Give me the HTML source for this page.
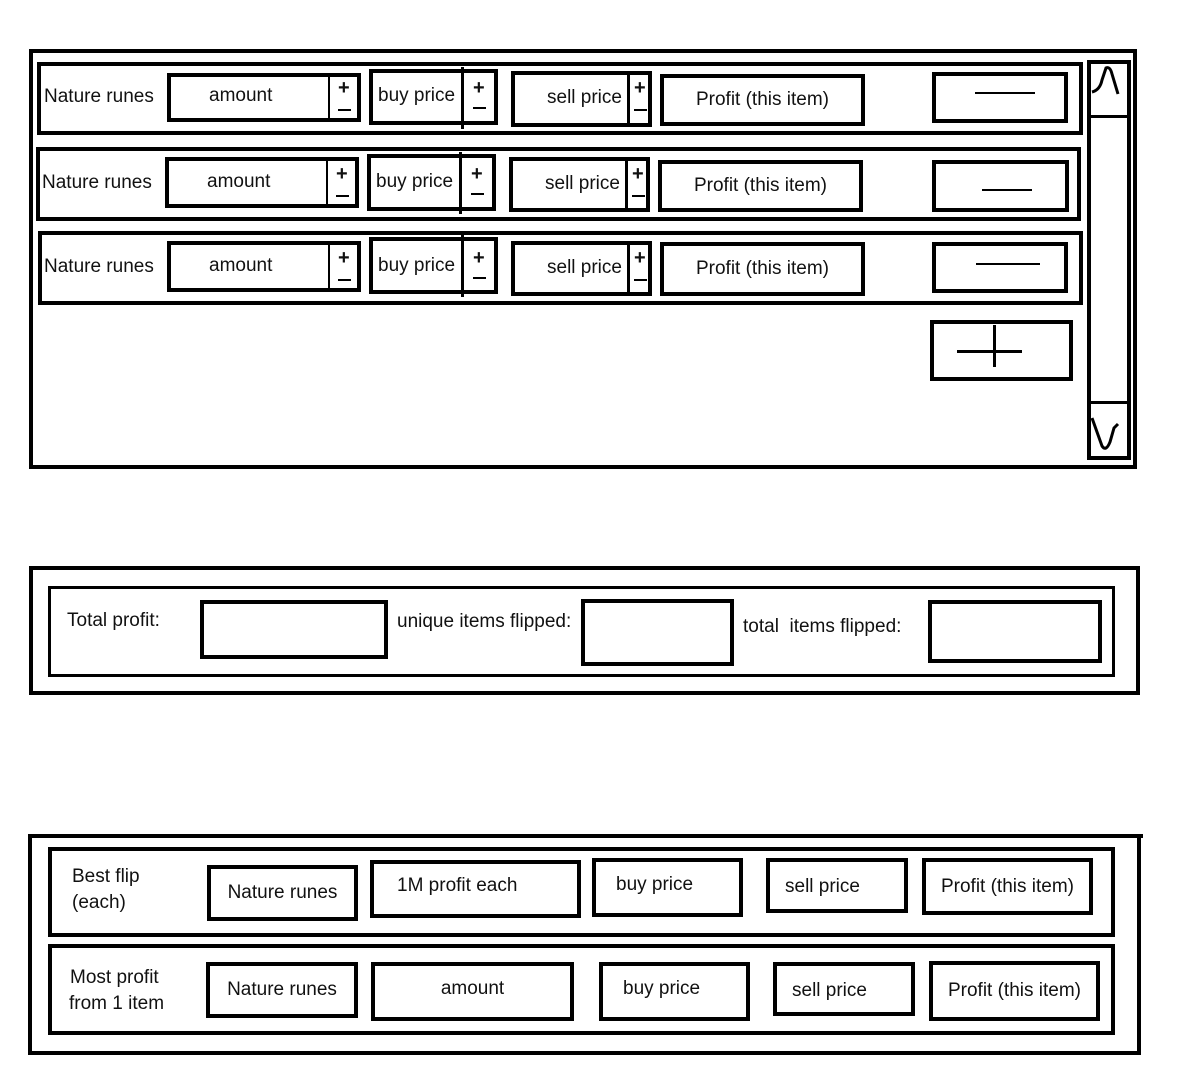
<!DOCTYPE html>
<html><head><meta charset="utf-8"><style>
body{margin:0;width:1182px;height:1072px;background:#fff;position:relative;overflow:hidden;font-family:"Liberation Sans",sans-serif;font-size:19px;color:#111}
.b{position:absolute;box-sizing:border-box;border:4px solid #000}
.t{position:absolute;white-space:nowrap;line-height:20px}
.p{position:absolute;font-weight:bold;font-size:20px;line-height:20px}
.l{position:absolute;background:#000}
.c{display:flex;align-items:center;justify-content:center}
</style></head><body>
<!-- frame 1 -->
<div class="b" style="left:29px;top:49px;width:1108px;height:420px"></div>
<div class="b" style="left:37px;top:62px;width:1046px;height:73px"></div>
<div class="b" style="left:36px;top:147px;width:1045px;height:74px"></div>
<div class="b" style="left:38px;top:231px;width:1045px;height:74px"></div>

<!-- row 1 -->
<div class="t" style="left:44px;top:87px">Nature runes</div>
<div class="b" style="left:167px;top:73px;width:194px;height:49px"></div>
<div class="l" style="left:328px;top:75px;width:2px;height:45px"></div>
<div class="t" style="left:209px;top:86px">amount</div>
<div class="p" style="left:338px;top:78px">+</div><div class="l" style="left:338px;top:109px;width:13px;height:2px"></div>
<div class="b" style="left:369px;top:69px;width:129px;height:56px"></div>
<div class="l" style="left:461px;top:67px;width:3px;height:62px"></div>
<div class="t" style="left:378px;top:86px">buy price</div>
<div class="p" style="left:473px;top:78px">+</div><div class="l" style="left:473px;top:107px;width:13px;height:2px"></div>
<div class="b" style="left:511px;top:71px;width:141px;height:56px"></div>
<div class="l" style="left:627px;top:73px;width:3px;height:52px"></div>
<div class="t" style="left:547px;top:88px">sell price</div>
<div class="p" style="left:634px;top:78px">+</div><div class="l" style="left:634px;top:109px;width:13px;height:2px"></div>
<div class="b c" style="left:660px;top:74px;width:205px;height:52px">Profit (this item)</div>
<div class="b" style="left:932px;top:72px;width:136px;height:51px"></div>
<div class="l" style="left:975px;top:92px;width:60px;height:2px"></div>

<!-- row 2 -->
<div class="t" style="left:42px;top:173px">Nature runes</div>
<div class="b" style="left:165px;top:157px;width:194px;height:51px"></div>
<div class="l" style="left:326px;top:159px;width:2px;height:47px"></div>
<div class="t" style="left:207px;top:172px">amount</div>
<div class="p" style="left:336px;top:164px">+</div><div class="l" style="left:336px;top:195px;width:13px;height:2px"></div>
<div class="b" style="left:367px;top:154px;width:129px;height:57px"></div>
<div class="l" style="left:459px;top:152px;width:3px;height:62px"></div>
<div class="t" style="left:376px;top:172px">buy price</div>
<div class="p" style="left:471px;top:164px">+</div><div class="l" style="left:471px;top:193px;width:13px;height:2px"></div>
<div class="b" style="left:509px;top:157px;width:141px;height:55px"></div>
<div class="l" style="left:625px;top:159px;width:3px;height:51px"></div>
<div class="t" style="left:545px;top:174px">sell price</div>
<div class="p" style="left:632px;top:164px">+</div><div class="l" style="left:632px;top:195px;width:13px;height:2px"></div>
<div class="b c" style="left:658px;top:160px;width:205px;height:52px">Profit (this item)</div>
<div class="b" style="left:932px;top:160px;width:137px;height:52px"></div>
<div class="l" style="left:982px;top:189px;width:50px;height:2px"></div>

<!-- row 3 -->
<div class="t" style="left:44px;top:257px">Nature runes</div>
<div class="b" style="left:167px;top:241px;width:194px;height:51px"></div>
<div class="l" style="left:328px;top:243px;width:2px;height:47px"></div>
<div class="t" style="left:209px;top:256px">amount</div>
<div class="p" style="left:338px;top:248px">+</div><div class="l" style="left:338px;top:279px;width:13px;height:2px"></div>
<div class="b" style="left:369px;top:237px;width:129px;height:57px"></div>
<div class="l" style="left:461px;top:235px;width:3px;height:62px"></div>
<div class="t" style="left:378px;top:256px">buy price</div>
<div class="p" style="left:473px;top:248px">+</div><div class="l" style="left:473px;top:277px;width:13px;height:2px"></div>
<div class="b" style="left:511px;top:241px;width:141px;height:55px"></div>
<div class="l" style="left:627px;top:243px;width:3px;height:51px"></div>
<div class="t" style="left:547px;top:258px">sell price</div>
<div class="p" style="left:634px;top:248px">+</div><div class="l" style="left:634px;top:279px;width:13px;height:2px"></div>
<div class="b c" style="left:660px;top:242px;width:205px;height:54px">Profit (this item)</div>
<div class="b" style="left:932px;top:242px;width:136px;height:51px"></div>
<div class="l" style="left:976px;top:263px;width:64px;height:2px"></div>

<!-- plus box -->
<div class="b" style="left:930px;top:320px;width:143px;height:61px"></div>
<div class="l" style="left:957px;top:350px;width:65px;height:3px"></div>
<div class="l" style="left:993px;top:325px;width:3px;height:42px"></div>

<!-- scrollbar -->
<div class="b" style="left:1087px;top:60px;width:44px;height:400px"></div>
<div class="l" style="left:1090px;top:115px;width:38px;height:3px"></div>
<div class="l" style="left:1090px;top:401px;width:38px;height:3px"></div>
<svg style="position:absolute;left:1088px;top:60px" width="44" height="400"><path d="M4 32 Q12 30 14 20 L18 8 Q22 6 24 14 L30 34" stroke="#000" stroke-width="3" fill="none"/><path d="M4 358 L14 386 Q18 392 22 382 L26 368 L30 364" stroke="#000" stroke-width="3" fill="none"/></svg>

<!-- frame 2 -->
<div class="b" style="left:29px;top:566px;width:1111px;height:129px"></div>
<div class="b" style="left:48px;top:586px;width:1067px;height:91px;border-width:3px"></div>
<div class="t" style="left:67px;top:611px">Total profit:</div>
<div class="b" style="left:200px;top:600px;width:188px;height:59px"></div>
<div class="t" style="left:397px;top:612px">unique items flipped:</div>
<div class="b" style="left:581px;top:599px;width:153px;height:67px"></div>
<div class="t" style="left:743px;top:617px">total&nbsp; items flipped:</div>
<div class="b" style="left:928px;top:600px;width:174px;height:63px"></div>

<!-- frame 3 -->
<div class="b" style="left:28px;top:834px;width:1113px;height:221px"></div>
<div class="l" style="left:1136px;top:834px;width:7px;height:4px"></div>
<div class="b" style="left:48px;top:847px;width:1067px;height:90px"></div>
<div class="b" style="left:48px;top:944px;width:1067px;height:91px"></div>
<div class="t" style="left:72px;top:867px">Best flip</div>
<div class="t" style="left:72px;top:893px">(each)</div>
<div class="b c" style="left:207px;top:865px;width:151px;height:56px">Nature runes</div>
<div class="b" style="left:370px;top:860px;width:211px;height:58px"></div><div class="t" style="left:397px;top:876px">1M profit each</div>
<div class="b" style="left:592px;top:858px;width:151px;height:59px"></div><div class="t" style="left:616px;top:875px">buy price</div>
<div class="b" style="left:766px;top:858px;width:142px;height:55px"></div><div class="t" style="left:785px;top:877px">sell price</div>
<div class="b c" style="left:922px;top:858px;width:171px;height:57px">Profit (this item)</div>
<div class="t" style="left:70px;top:968px">Most profit</div>
<div class="t" style="left:69px;top:994px">from 1 item</div>
<div class="b c" style="left:206px;top:962px;width:152px;height:56px">Nature runes</div>
<div class="b c" style="left:371px;top:962px;width:203px;height:59px;padding-bottom:6px">amount</div>
<div class="b" style="left:599px;top:962px;width:151px;height:59px"></div><div class="t" style="left:623px;top:979px">buy price</div>
<div class="b" style="left:773px;top:962px;width:142px;height:54px"></div><div class="t" style="left:792px;top:981px">sell price</div>
<div class="b c" style="left:929px;top:961px;width:171px;height:60px">Profit (this item)</div>
</body></html>
